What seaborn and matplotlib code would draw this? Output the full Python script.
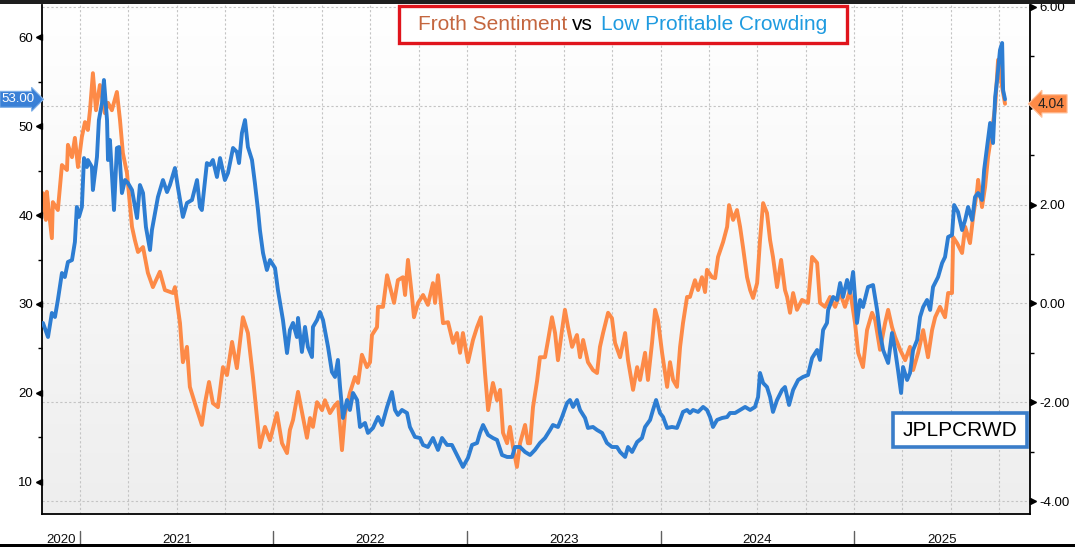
import numpy as np
import matplotlib
matplotlib.use("Agg")
import matplotlib.pyplot as plt
import seaborn as sns
from matplotlib.patches import Rectangle
from matplotlib.transforms import ScaledTranslation
from matplotlib.colors import LinearSegmentedColormap

# ---------------- data (decimal years) ----------------
froth_t = [2020.809, 2020.824, 2020.829, 2020.835, 2020.855, 2020.860, 2020.886, 2020.907, 2020.933, 2020.938,
           2020.959, 2020.974, 2020.990, 2021.010, 2021.026, 2021.041, 2021.052, 2021.067, 2021.083, 2021.103,
           2021.129, 2021.145, 2021.165, 2021.191, 2021.207, 2021.222, 2021.243, 2021.269, 2021.284, 2021.300,
           2021.326, 2021.351, 2021.377, 2021.413, 2021.439, 2021.481, 2021.491, 2021.517, 2021.532, 2021.553,
           2021.568, 2021.594, 2021.630, 2021.646, 2021.667, 2021.687, 2021.713, 2021.739, 2021.760, 2021.786,
           2021.811, 2021.842, 2021.868, 2021.894, 2021.930, 2021.956, 2021.982, 2022.018, 2022.044, 2022.070,
           2022.085, 2022.101, 2022.127, 2022.152, 2022.173, 2022.189, 2022.204, 2022.225, 2022.251, 2022.266,
           2022.292, 2022.318, 2022.333, 2022.354, 2022.370, 2022.395, 2022.421, 2022.437, 2022.457, 2022.483,
           2022.499, 2022.509, 2022.535, 2022.540, 2022.566, 2022.587, 2022.623, 2022.643, 2022.669, 2022.680,
           2022.695, 2022.716, 2022.726, 2022.747, 2022.773, 2022.798, 2022.824, 2022.835, 2022.850, 2022.876,
           2022.902, 2022.928, 2022.948, 2022.964, 2022.979, 2023.005, 2023.031, 2023.052, 2023.072, 2023.093,
           2023.109, 2023.134, 2023.155, 2023.171, 2023.186, 2023.207, 2023.222, 2023.238, 2023.258, 2023.274,
           2023.300, 2023.315, 2023.326, 2023.341, 2023.362, 2023.377, 2023.403, 2023.419, 2023.439, 2023.455,
           2023.470, 2023.491, 2023.506, 2023.522, 2023.543, 2023.568, 2023.584, 2023.600, 2023.625, 2023.651,
           2023.672, 2023.687, 2023.703, 2023.729, 2023.749, 2023.765, 2023.791, 2023.817, 2023.832, 2023.858,
           2023.879, 2023.894, 2023.920, 2023.935, 2023.956, 2023.972, 2023.987, 2024.008, 2024.034, 2024.049,
           2024.065, 2024.085, 2024.101, 2024.116, 2024.137, 2024.152, 2024.178, 2024.194, 2024.214, 2024.230,
           2024.240, 2024.266, 2024.282, 2024.297, 2024.323, 2024.344, 2024.354, 2024.375, 2024.395, 2024.411,
           2024.426, 2024.447, 2024.463, 2024.478, 2024.499, 2024.514, 2024.530, 2024.550, 2024.566, 2024.581,
           2024.602, 2024.623, 2024.643, 2024.654, 2024.669, 2024.685, 2024.705, 2024.731, 2024.762, 2024.783,
           2024.809, 2024.824, 2024.850, 2024.876, 2024.902, 2024.928, 2024.953, 2024.979, 2025.005, 2025.021,
           2025.046, 2025.067, 2025.093, 2025.109, 2025.134, 2025.160, 2025.176, 2025.196, 2025.212, 2025.238,
           2025.264, 2025.289, 2025.305, 2025.331, 2025.357, 2025.382, 2025.403, 2025.419, 2025.444, 2025.470,
           2025.486, 2025.506, 2025.512, 2025.532, 2025.558, 2025.574, 2025.599, 2025.615, 2025.636, 2025.641,
           2025.661, 2025.677, 2025.692, 2025.713, 2025.729, 2025.744, 2025.765, 2025.780]
froth_v = [2.23, 1.69, 2.26, 2.03, 1.32, 2.05, 1.89, 2.80, 2.70, 3.21,
           2.96, 3.35, 2.76, 3.37, 3.67, 3.51, 3.91, 4.66, 3.91, 4.42,
           3.85, 4.06, 3.91, 4.28, 3.71, 3.04, 2.64, 1.55, 1.28, 1.04,
           1.14, 0.62, 0.33, 0.64, 0.27, 0.21, 0.33, -0.40, -1.19, -0.88,
           -1.69, -2.02, -2.46, -2.02, -1.59, -2.02, -2.10, -1.29, -1.45, -0.78,
           -1.31, -0.28, -0.60, -1.49, -2.91, -2.50, -2.77, -2.22, -2.83, -3.03,
           -2.56, -2.36, -1.79, -2.30, -2.72, -2.32, -2.50, -2.00, -2.16, -1.96,
           -2.22, -2.06, -2.00, -2.97, -2.22, -1.81, -1.49, -1.61, -1.04, -1.29,
           -1.19, -0.64, -0.48, -0.07, -0.07, 0.57, 0.01, 0.47, 0.53, 0.17,
           0.88, 0.13, -0.28, 0.01, 0.17, -0.03, 0.41, 0.01, 0.57, -0.40,
           -0.38, -0.80, -0.60, -1.00, -0.60, -1.19, -0.74, -0.48, -0.28, -1.41,
           -2.16, -1.61, -1.96, -1.75, -2.62, -2.83, -2.50, -2.91, -3.31, -2.83,
           -2.46, -2.83, -2.83, -2.10, -1.57, -1.09, -1.09, -0.74, -0.28, -0.60,
           -1.15, -0.54, -0.13, -0.48, -0.88, -0.64, -1.09, -0.74, -1.19, -1.35,
           -1.41, -0.88, -0.60, -0.19, -0.30, -0.80, -1.09, -0.60, -1.15, -1.75,
           -1.29, -1.55, -1.00, -1.55, -0.80, -0.13, -0.34, -1.00, -1.69, -1.19,
           -1.55, -1.69, -0.88, -0.40, 0.13, 0.13, 0.47, 0.27, 0.53, 0.23,
           0.68, 0.53, 0.51, 0.94, 1.24, 1.55, 1.99, 1.69, 1.89, 1.55,
           1.14, 0.53, 0.27, 0.11, 0.41, 1.28, 2.03, 1.83, 1.28, 0.94,
           0.33, 0.88, 0.27, 0.13, -0.19, 0.21, -0.13, 0.07, 0.01, 0.94,
           0.82, 0.01, -0.07, 0.13, -0.07, 0.21, -0.07, 0.27, -0.40, -1.00,
           -1.29, -0.54, -0.19, -0.34, -0.94, -0.40, -0.13, -0.48, -0.68, -0.94,
           -1.15, -0.88, -1.35, -1.00, -0.54, -1.09, -0.54, -0.28, -0.07, -0.28,
           0.21, 0.21, 1.34, 1.22, 1.02, 1.55, 1.22, 1.75, 2.30, 2.50,
           1.95, 2.36, 2.96, 3.51, 3.98, 4.93, 4.38, 4.04]

crowd_t = [2020.809, 2020.835, 2020.855, 2020.871, 2020.886, 2020.907, 2020.922, 2020.938, 2020.959, 2020.974,
           2020.984, 2020.995, 2021.010, 2021.021, 2021.036, 2021.041, 2021.062, 2021.067, 2021.088, 2021.098,
           2021.114, 2021.124, 2021.140, 2021.145, 2021.155, 2021.165, 2021.176, 2021.191, 2021.202, 2021.217,
           2021.233, 2021.248, 2021.269, 2021.295, 2021.310, 2021.326, 2021.341, 2021.362, 2021.372, 2021.388,
           2021.403, 2021.429, 2021.450, 2021.465, 2021.491, 2021.506, 2021.532, 2021.553, 2021.579, 2021.605,
           2021.620, 2021.630, 2021.656, 2021.672, 2021.687, 2021.708, 2021.724, 2021.749, 2021.765, 2021.791,
           2021.811, 2021.822, 2021.837, 2021.853, 2021.868, 2021.889, 2021.904, 2021.920, 2021.930, 2021.946,
           2021.966, 2021.982, 2022.008, 2022.023, 2022.049, 2022.070, 2022.085, 2022.101, 2022.121, 2022.127,
           2022.147, 2022.163, 2022.178, 2022.199, 2022.204, 2022.225, 2022.240, 2022.256, 2022.282, 2022.302,
           2022.318, 2022.333, 2022.344, 2022.359, 2022.380, 2022.395, 2022.411, 2022.432, 2022.447, 2022.473,
           2022.488, 2022.514, 2022.540, 2022.561, 2022.587, 2022.612, 2022.628, 2022.643, 2022.664, 2022.690,
           2022.705, 2022.731, 2022.757, 2022.773, 2022.798, 2022.824, 2022.850, 2022.871, 2022.897, 2022.922,
           2022.948, 2022.979, 2023.005, 2023.026, 2023.052, 2023.067, 2023.083, 2023.109, 2023.134, 2023.155,
           2023.181, 2023.207, 2023.233, 2023.248, 2023.274, 2023.300, 2023.326, 2023.351, 2023.377, 2023.403,
           2023.429, 2023.444, 2023.470, 2023.491, 2023.517, 2023.532, 2023.548, 2023.568, 2023.584, 2023.610,
           2023.625, 2023.651, 2023.672, 2023.698, 2023.723, 2023.749, 2023.775, 2023.791, 2023.817, 2023.832,
           2023.853, 2023.879, 2023.904, 2023.920, 2023.946, 2023.961, 2023.977, 2023.997, 2024.013, 2024.034,
           2024.059, 2024.085, 2024.101, 2024.116, 2024.137, 2024.152, 2024.168, 2024.194, 2024.220, 2024.240,
           2024.256, 2024.271, 2024.292, 2024.318, 2024.344, 2024.359, 2024.385, 2024.411, 2024.437, 2024.463,
           2024.488, 2024.504, 2024.514, 2024.530, 2024.550, 2024.566, 2024.581, 2024.602, 2024.628, 2024.643,
           2024.664, 2024.685, 2024.711, 2024.736, 2024.762, 2024.783, 2024.809, 2024.824, 2024.840, 2024.860,
           2024.866, 2024.892, 2024.912, 2024.928, 2024.943, 2024.964, 2024.979, 2024.995, 2025.015, 2025.031,
           2025.046, 2025.072, 2025.098, 2025.119, 2025.134, 2025.150, 2025.176, 2025.196, 2025.212, 2025.227,
           2025.243, 2025.253, 2025.274, 2025.289, 2025.305, 2025.326, 2025.341, 2025.357, 2025.377, 2025.393,
           2025.408, 2025.434, 2025.455, 2025.470, 2025.486, 2025.506, 2025.517, 2025.537, 2025.558, 2025.574,
           2025.589, 2025.610, 2025.625, 2025.641, 2025.661, 2025.672, 2025.687, 2025.703, 2025.718, 2025.729,
           2025.739, 2025.754, 2025.765, 2025.770, 2025.780]
crowd_v = [27.87, 26.29, 28.99, 28.54, 30.45, 33.48, 33.03, 34.72, 34.94, 36.97,
           40.90, 39.78, 40.90, 46.40, 45.39, 46.18, 45.39, 42.81, 46.52, 50.67,
           52.58, 55.17, 50.67, 46.18, 48.43, 44.72, 40.56, 47.53, 47.64, 42.47,
           43.93, 43.60, 42.81, 39.66, 43.37, 42.47, 38.65, 36.07, 38.31, 40.22,
           42.02, 43.93, 42.58, 43.37, 45.28, 43.15, 39.78, 41.35, 41.69, 43.93,
           40.90, 40.56, 45.84, 45.62, 46.18, 44.27, 46.40, 43.93, 44.72, 47.53,
           47.08, 45.84, 49.21, 50.67, 47.64, 46.18, 43.60, 40.56, 38.31, 35.73,
           33.82, 34.94, 34.04, 31.57, 28.20, 24.49, 27.08, 27.87, 26.29, 28.43,
           24.61, 27.42, 25.17, 24.04, 27.42, 28.20, 29.10, 28.20, 25.17, 22.36,
           21.80, 23.71, 20.67, 17.19, 19.21, 18.09, 20.00, 19.21, 16.18, 16.63,
           15.51, 16.07, 17.30, 16.40, 18.43, 20.11, 18.09, 17.53, 18.09, 17.75,
           16.18, 15.06, 14.94, 14.16, 13.93, 14.94, 13.60, 14.94, 14.16, 14.16,
           13.03, 11.69, 12.70, 14.16, 14.38, 15.51, 16.40, 15.28, 14.94, 14.72,
           13.03, 12.81, 12.81, 13.93, 13.93, 13.37, 13.03, 13.60, 14.38, 14.94,
           15.84, 16.40, 16.18, 17.30, 18.88, 19.21, 18.43, 19.21, 18.09, 17.19,
           16.07, 16.18, 15.84, 15.51, 14.38, 13.93, 13.93, 13.37, 12.81, 13.93,
           13.37, 14.49, 14.94, 16.18, 16.97, 18.09, 19.21, 17.75, 17.30, 16.07,
           16.18, 16.07, 16.97, 17.87, 18.09, 17.75, 18.09, 17.87, 18.43, 18.09,
           17.30, 16.18, 16.97, 17.19, 17.30, 17.75, 17.75, 18.09, 18.43, 18.09,
           18.43, 19.55, 22.25, 21.12, 20.67, 19.55, 17.87, 19.21, 20.34, 20.67,
           18.65, 20.34, 21.46, 21.80, 22.02, 23.93, 24.83, 23.71, 27.08, 27.87,
           29.33, 30.79, 30.45, 32.36, 30.79, 32.70, 31.24, 33.60, 27.87, 30.45,
           29.66, 31.91, 32.13, 29.33, 26.74, 24.83, 23.37, 26.74, 24.83, 22.58,
           20.00, 22.92, 21.46, 22.25, 24.83, 25.96, 28.54, 29.66, 30.45, 29.33,
           31.91, 33.03, 34.61, 35.28, 37.53, 37.75, 41.12, 40.34, 38.31, 39.44,
           40.90, 39.44, 42.02, 42.47, 41.69, 45.06, 47.64, 50.34, 48.09, 53.26,
           55.17, 58.54, 59.33, 54.04, 53.00]

years = [2020, 2021, 2022, 2023, 2024, 2025]
left_ticks = [10, 20, 30, 40, 50, 60]
left_minor = [15, 25, 35, 45, 55]
right_ticks = [-4, -2, 0, 2, 4, 6]
right_minor = [-3, -1, 1, 3, 5]
title_parts = ["Froth Sentiment", "vs", "Low Profitable Crowding"]
ticker_label = "JPLPCRWD"

ORANGE = "#fd8a47"
BLUE = "#2d7dd2"
GRID = "#c4c4c4"

sns.set_style("white")
plt.rcParams["font.family"] = ["Liberation Sans", "DejaVu Sans"]
plt.rcParams["axes.unicode_minus"] = False

W, H = 1075, 547
fig = plt.figure(figsize=(W / 100, H / 100), dpi=100)
fig.patch.set_facecolor("white")

ax_l, ax_r, ax_top, ax_bot = 42, 1030, 5, 514
rect = [ax_l / W, (H - ax_bot) / H, (ax_r - ax_l) / W, (ax_bot - ax_top) / H]

# gradient background
bg = fig.add_axes(rect, zorder=0)
grad = np.linspace(0, 1, 256).reshape(-1, 1)
cmap = LinearSegmentedColormap.from_list("g", ["#ffffff", "#eeeeee"])
bg.imshow(grad, aspect="auto", cmap=cmap, extent=[0, 1, 0, 1], origin="upper")
bg.axis("off")

ax = fig.add_axes(rect, zorder=1)
ax.set_facecolor("none")
ax2 = ax.twinx()
ax2.set_zorder(2)
ax2.patch.set_visible(False)

sns.lineplot(x=froth_t, y=froth_v, ax=ax, color=ORANGE, linewidth=2.8,
             estimator=None, sort=False)
sns.lineplot(x=crowd_t, y=crowd_v, ax=ax2, color=BLUE, linewidth=2.8,
             estimator=None, sort=False)

xmin, xmax = 2020.804, 2025.909
ax.set_xlim(xmin, xmax)
ax.set_ylim(-4.263, 6.04)
ax2.set_ylim(6.40, 63.6)

# y axes: orange on right, blue on left
ax.yaxis.tick_right()
ax.yaxis.set_label_position("right")
ax2.yaxis.tick_left()
ax2.yaxis.set_label_position("left")

last_froth = froth_v[-1]
ax.set_yticks(right_ticks)
# the tick label under the last-value tag is hidden by the tag in the reference
ax.set_yticklabels(["" if abs(v - last_froth) < 0.5 else f"{v:.2f}" for v in right_ticks])
ax.set_yticks(right_minor, minor=True)
ax2.set_yticks(left_ticks)
ax2.set_yticklabels([str(v) for v in left_ticks])
ax2.set_yticks(left_minor, minor=True)

ax.tick_params(axis="y", which="major", length=5, width=0, pad=1.5,
               labelsize=9.5, colors="black")
ax.tick_params(axis="y", which="minor", length=3, width=1, color="black",
               direction="out")
ax2.tick_params(axis="y", which="major", length=5, width=0, pad=1.5,
                labelsize=9.5, colors="black")
ax2.tick_params(axis="y", which="minor", length=3, width=1, color="black",
                direction="out")

# x axis: quarters (grid) and months (ticks)
quarters = [y + q / 4 for y in years + [2026] for q in range(4) if xmin <= y + q / 4 <= xmax]
months = [y + m / 12 for y in years for m in range(12) if xmin <= y + m / 12 <= xmax]
ax.set_xticks(quarters)
ax.set_xticklabels([])
ax.set_xticks(months, minor=True)
ax.tick_params(axis="x", which="both", length=5, width=1, color="black",
               direction="out")

ax.grid(axis="both", which="major", color=GRID, linestyle=(0, (2, 2)), linewidth=0.8)
ax2.grid(False)

for s in ["left", "right", "bottom"]:
    ax.spines[s].set_visible(True)
    ax.spines[s].set_color("black")
    ax.spines[s].set_linewidth(1.3)
ax.spines["top"].set_visible(False)
for s in ax2.spines.values():
    s.set_visible(False)
ax.set_xlabel("")
ax.set_ylabel("")
ax2.set_ylabel("")

# triangular major tick marks
tr_r = ax.get_yaxis_transform() + ScaledTranslation(2.5 / 72, 0, fig.dpi_scale_trans)
ax.plot([1] * len(right_ticks), right_ticks, ls="none", marker=">", ms=5,
        color="black", transform=tr_r, clip_on=False, zorder=5)
tr_l = ax2.get_yaxis_transform() + ScaledTranslation(-2.5 / 72, 0, fig.dpi_scale_trans)
ax2.plot([0] * len(left_ticks), left_ticks, ls="none", marker="<", ms=5,
         color="black", transform=tr_l, clip_on=False, zorder=5)

# year separators and labels
axh = ax_bot - ax_top
xt = ax.get_xaxis_transform()
for y in years[1:]:
    ax.plot([y, y], [-(531 - ax_bot) / axh, -(548 - ax_bot) / axh], color="#606060",
            lw=1, transform=xt, clip_on=False)
for y in years:
    lo, hi = max(y, xmin), min(y + 1, xmax)
    ax.text((lo + hi) / 2, -(540 - ax_bot) / axh, str(y), transform=xt,
            ha="center", va="center", fontsize=9.5, color="#111111")

# last-value tags
ax2.text(-(42 - 35) / (ax_r - ax_l), crowd_v[-1], f"{crowd_v[-1]:.2f}",
         transform=ax2.get_yaxis_transform(), ha="right", va="center",
         color="white", fontsize=9.5, clip_on=False, zorder=10,
         bbox=dict(boxstyle="rarrow,pad=0.15", fc="#3a80d6", ec="#7fb0e8", lw=0.8))
ax.text(1 + (1038 - ax_r) / (ax_r - ax_l), last_froth, f"{last_froth:.2f}",
        transform=ax.get_yaxis_transform(), ha="left", va="center",
        color="#222222", fontsize=10, clip_on=False, zorder=10,
        bbox=dict(boxstyle="larrow,pad=0.15", fc=ORANGE, ec="#ffc09a", lw=0.8))

# title box
fig.add_artist(Rectangle((399 / W, 1 - 43 / H), 448 / W, 37 / H, transform=fig.transFigure,
                         fc="white", ec="#e0141c", lw=2.4, zorder=20))
ty = 1 - 24.5 / H
fig.text(418 / W, ty, title_parts[0], color="#c4663f", fontsize=15, va="center", ha="left", zorder=21)
fig.text(572 / W, ty, title_parts[1], color="black", fontsize=15, va="center", ha="left", zorder=21)
fig.text(601 / W, ty, title_parts[2], color="#1f9be0", fontsize=15, va="center", ha="left", zorder=21)

# ticker box
fig.add_artist(Rectangle((893 / W, 1 - 447 / H), 134 / W, 34 / H, transform=fig.transFigure,
                         fc="white", ec="#3a7dc9", lw=2.6, zorder=20))
fig.text(960 / W, 1 - 430 / H, ticker_label, color="black", fontsize=15,
         ha="center", va="center", zorder=21)

# frame bands
fig.add_artist(Rectangle((0, 1 - 4 / H), 1, 4 / H, transform=fig.transFigure,
                         fc="#1e1e1e", ec="none", zorder=30))
fig.add_artist(Rectangle((0, 0), 1, 3 / H, transform=fig.transFigure,
                         fc="black", ec="none", zorder=30))

fig.savefig("out.png", dpi=100)
